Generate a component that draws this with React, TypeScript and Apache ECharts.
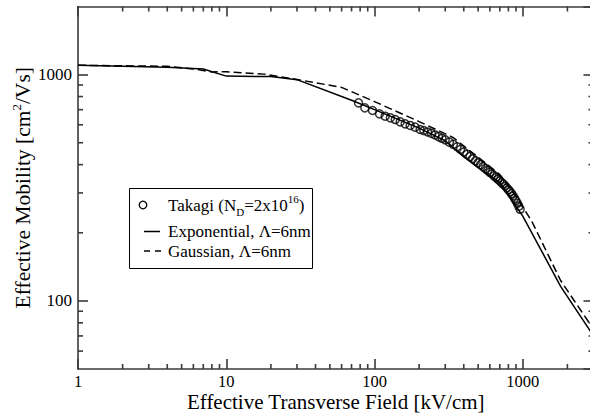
import React, { useEffect, useRef } from "react";
import * as echarts from "echarts";

// ---- data ----
const expX = [1, 4, 7, 10, 20, 30, 70, 100, 200, 300, 400, 500, 700, 1000, 1800, 3000];
const expY = [1100, 1078, 1058, 985, 980, 950, 770, 700, 580, 510, 435, 388, 334, 237, 116, 70];

const gaussX = [1, 4, 6, 8, 10, 18, 30, 60, 100, 200, 340, 700, 900, 1150, 1800, 3000];
const gaussY = [1100, 1088, 1060, 1028, 1030, 1005, 952, 878, 760, 620, 527, 362, 290, 225, 123, 75];

const takagiX = [
  78, 86, 97, 108, 118, 128, 138, 149, 161, 174, 188, 203, 215, 228, 242, 256, 270, 285,
  300, 320, 340, 360, 380, 400, 420, 440, 460, 480, 500, 520, 540, 560, 580, 600, 620, 640,
  660, 680, 700, 720, 740, 760, 780, 800, 820, 840, 860, 880, 900, 920, 940, 960,
];
const takagiY = [
  750, 713, 694, 671, 655, 644, 633, 618, 606, 596, 586, 572, 566, 558, 550, 541, 532, 523,
  515, 503, 492, 480, 467, 455, 444, 434, 425, 416, 408, 400, 392, 384, 377, 370, 364, 357,
  351, 345, 339, 333, 328, 322, 316, 310, 304, 298, 291, 284, 277, 270, 262, 254,
];

const xMinorTicks = [2, 3, 4, 5, 6, 7, 8, 9, 20, 30, 40, 50, 60, 70, 80, 90, 200, 300, 400, 500, 600, 700, 800, 900, 2000];
const yMinorTicks = [60, 70, 80, 90, 200, 300, 400, 500, 600, 700, 800, 900];

const X_MIN = 1;
const X_MAX = 3000;
const Y_MIN = 50;
const Y_MAX = 2000;

const FONT = "'Liberation Serif', 'Times New Roman', serif";
const AXIS_COLOR = "#3a3a3a";
const AXIS_W = 1.6;

const plainNumber = (v: number) => String(Math.round(v));

export default function App() {
  const ref = useRef<HTMLDivElement>(null);

  useEffect(() => {
    const chart = echarts.init(ref.current as HTMLDivElement, null, { renderer: "svg" });

    const axisLine = { show: true, onZero: false, lineStyle: { color: AXIS_COLOR, width: AXIS_W } };
    const axisTick = { show: true, inside: true, length: 10, lineStyle: { color: AXIS_COLOR, width: AXIS_W } };

    const option: any = {
      animation: false,
      backgroundColor: "#fff",
      grid: { left: 78, top: 6.5, right: 6.5, bottom: 47, containLabel: false, outerBoundsMode: "none" },
      xAxis: [
        {
          type: "log",
          logBase: 10,
          min: X_MIN,
          max: X_MAX,
          position: "bottom",
          axisLine,
          axisTick,
          splitLine: { show: false },
          minorTick: { show: false },
          axisLabel: {
            color: "#000",
            fontFamily: FONT,
            fontSize: 16.5,
            lineHeight: 14,
            margin: 5,
            showMaxLabel: false,
            formatter: plainNumber,
          },
          name: "Effective Transverse Field [kV/cm]",
          nameLocation: "middle",
          nameGap: 25,
          nameMoveOverlap: false,
          nameTextStyle: { color: "#000", fontFamily: FONT, fontSize: 21, lineHeight: 16 },
        },
        {
          type: "log",
          logBase: 10,
          min: X_MIN,
          max: X_MAX,
          position: "top",
          axisLine,
          axisTick,
          splitLine: { show: false },
          axisLabel: { show: false },
        },
      ],
      yAxis: [
        {
          type: "log",
          logBase: 10,
          min: Y_MIN,
          max: Y_MAX,
          position: "left",
          axisLine,
          axisTick,
          splitLine: { show: false },
          minorTick: { show: false },
          axisLabel: {
            color: "#000",
            fontFamily: FONT,
            fontSize: 17,
            margin: 6,
            showMinLabel: false,
            showMaxLabel: false,
            formatter: plainNumber,
          },
          name: "Effective Mobility [cm{sup|2}/Vs]",
          nameLocation: "middle",
          nameGap: 42,
          nameMoveOverlap: false,
          nameTextStyle: {
            color: "#000",
            fontFamily: FONT,
            fontSize: 21.5,
            lineHeight: 26,
            rich: {
              sup: { fontFamily: FONT, fontSize: 13, color: "#000", verticalAlign: "top", lineHeight: 14 },
            },
          },
        },
        {
          type: "log",
          logBase: 10,
          min: Y_MIN,
          max: Y_MAX,
          position: "right",
          axisLine,
          axisTick,
          splitLine: { show: false },
          axisLabel: { show: false },
        },
      ],
      series: [
        {
          type: "custom",
          silent: true,
          xAxisIndex: 0,
          yAxisIndex: 0,
          data: xMinorTicks.map((v) => [v, 100]),
          renderItem: (params: any, api: any) => {
            const cs = params.coordSys;
            const x = api.coord([api.value(0), 100])[0];
            const st = { stroke: AXIS_COLOR, lineWidth: AXIS_W };
            return {
              type: "group",
              children: [
                { type: "line", shape: { x1: x, y1: cs.y + cs.height, x2: x, y2: cs.y + cs.height - 5 }, style: st },
                { type: "line", shape: { x1: x, y1: cs.y, x2: x, y2: cs.y + 5 }, style: st },
              ],
            };
          },
        },
        {
          type: "custom",
          silent: true,
          xAxisIndex: 0,
          yAxisIndex: 0,
          data: yMinorTicks.map((v) => [1, v]),
          renderItem: (params: any, api: any) => {
            const cs = params.coordSys;
            const y = api.coord([1, api.value(1)])[1];
            const st = { stroke: AXIS_COLOR, lineWidth: AXIS_W };
            return {
              type: "group",
              children: [
                { type: "line", shape: { x1: cs.x, y1: y, x2: cs.x + 5, y2: y }, style: st },
                { type: "line", shape: { x1: cs.x + cs.width, y1: y, x2: cs.x + cs.width - 5, y2: y }, style: st },
              ],
            };
          },
        },
        {
          name: "Exponential",
          type: "line",
          xAxisIndex: 0,
          yAxisIndex: 0,
          data: expX.map((x, i) => [x, expY[i]]),
          symbol: "none",
          showSymbol: false,
          lineStyle: { color: "#000", width: 1.5 },
        },
        {
          name: "Gaussian",
          type: "line",
          xAxisIndex: 0,
          yAxisIndex: 0,
          data: gaussX.map((x, i) => [x, gaussY[i]]),
          symbol: "none",
          showSymbol: false,
          lineStyle: { color: "#000", width: 1.5, type: [8, 4] },
        },
        {
          name: "Takagi",
          type: "scatter",
          xAxisIndex: 0,
          yAxisIndex: 0,
          data: takagiX.map((x, i) => [x, takagiY[i]]),
          symbol: "circle",
          symbolSize: 8,
          itemStyle: { color: "rgba(0,0,0,0)", borderColor: "#000", borderWidth: 1.5 },
        },
      ],
      graphic: [
        {
          type: "rect",
          z: 100,
          shape: { x: 129.5, y: 188.5, width: 183, height: 80 },
          style: { fill: "#fff", stroke: "#000", lineWidth: 1 },
        },
        {
          type: "circle",
          z: 101,
          shape: { cx: 143, cy: 205, r: 3.8 },
          style: { fill: "none", stroke: "#000", lineWidth: 1.3 },
        },
        {
          type: "line",
          z: 101,
          shape: { x1: 144, y1: 231.5, x2: 160, y2: 231.5 },
          style: { stroke: "#000", lineWidth: 1.5 },
        },
        {
          type: "line",
          z: 101,
          shape: { x1: 144, y1: 251, x2: 161, y2: 251 },
          style: { stroke: "#000", lineWidth: 1.5, lineDash: [6, 5] },
        },
        {
          type: "text",
          z: 101,
          x: 168,
          y: 205,
          style: {
            text: "Takagi (N{sub|D}=2x10{sup|16})",
            fill: "#000",
            fontFamily: FONT,
            fontSize: 17,
            lineHeight: 24,
            verticalAlign: "middle",
            rich: {
              sub: { fontFamily: FONT, fontSize: 11, fill: "#000", verticalAlign: "bottom", lineHeight: 12 },
              sup: { fontFamily: FONT, fontSize: 11, fill: "#000", verticalAlign: "top", lineHeight: 12 },
            },
          },
        },
        {
          type: "text",
          z: 101,
          x: 168,
          y: 231,
          style: {
            text: "Exponential, Λ=6nm",
            fill: "#000",
            fontFamily: FONT,
            fontSize: 17,
            verticalAlign: "middle",
          },
        },
        {
          type: "text",
          z: 101,
          x: 168,
          y: 251,
          style: {
            text: "Gaussian, Λ=6nm",
            fill: "#000",
            fontFamily: FONT,
            fontSize: 17,
            verticalAlign: "middle",
          },
        },
      ],
    };

    chart.setOption(option);
    return () => chart.dispose();
  }, []);

  return (
    <div
      style={{
        position: "fixed",
        left: 0,
        top: 0,
        width: 590,
        height: 416,
        overflow: "hidden",
        background: "#fff",
      }}
    >
      <div ref={ref} style={{ width: 600, height: 416 }} />
    </div>
  );
}
